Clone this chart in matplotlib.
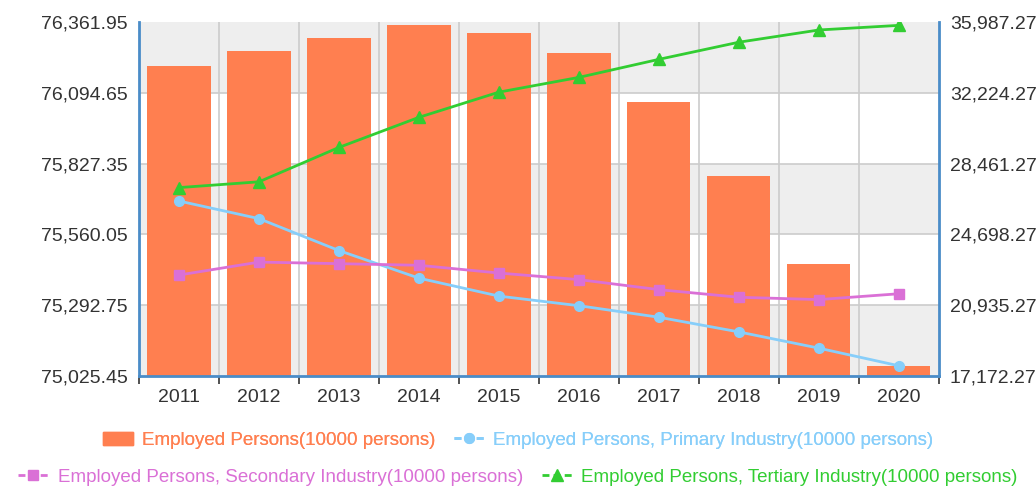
import matplotlib.pyplot as plt
from matplotlib.lines import Line2D
from matplotlib.patches import Patch
import numpy as np

plt.rcParams['font.family'] = ['Liberation Sans', 'DejaVu Sans']

years = ['2011', '2012', '2013', '2014', '2015', '2016', '2017', '2018', '2019', '2020']
employed = [76196, 76254, 76301, 76349, 76320, 76245, 76058, 75782, 75447, 75064]
primary = [26472, 25535, 23838, 22372, 21418, 20908, 20295, 19515, 18652, 17715]
secondary = [22539, 23226, 23142, 23057, 22644, 22295, 21762, 21356, 21234, 21543]
tertiary = [27185, 27493, 29321, 30920, 32258, 33042, 34001, 34911, 35561, 35806]

left_ticks = [75025.45, 75292.75, 75560.05, 75827.35, 76094.65, 76361.95]
right_ticks = [17172.27, 20935.27, 24698.27, 28461.27, 32224.27, 35987.27]

c_bar = '#FF7F50'
c_pri = '#87CEFA'
c_sec = '#DA70D6'
c_ter = '#32CD32'
c_spine = '#4A8CC8'
c_text = '#333333'
fs = 14
lfs = 13.5

fig = plt.figure(figsize=(10.36, 4.88), dpi=100)
ax = fig.add_axes([0.1342, 0.2295, 0.772, 0.7255])
x = np.arange(len(years))

ax.set_xlim(-0.5, len(years) - 0.5)
ax.set_ylim(left_ticks[0], left_ticks[-1])

# alternating background bands
for i in range(len(left_ticks) - 1):
    if i % 2 == 0:
        ax.axhspan(left_ticks[i], left_ticks[i + 1], color='#EEEEEE', zorder=0, lw=0)
for t in left_ticks[1:-1]:
    ax.axhline(t, color='#CCCCCC', lw=1.2, zorder=0.5)
for b in np.arange(0.5, len(years) - 1, 1):
    ax.axvline(b, color='#CCCCCC', lw=1.2, zorder=0.5)

ax.bar(x, employed, width=0.79, color=c_bar, zorder=2)

ax.set_yticks(left_ticks)
ax.set_yticklabels([f'{t:,.2f}' for t in left_ticks])
ax.set_xticks(x)
ax.set_xticklabels(years)
ax.set_xticks(np.arange(-0.5, len(years), 1), minor=True)
ax.tick_params(axis='x', which='major', length=0, pad=9, labelsize=fs, labelcolor=c_text)
ax.tick_params(axis='x', which='minor', length=6, width=1.2, color=c_text)
ax.tick_params(axis='y', length=0, pad=8, labelsize=fs, labelcolor=c_text)

ax2 = ax.twinx()
ax2.set_ylim(right_ticks[0], right_ticks[-1])
ax2.plot(x, primary, color=c_pri, lw=2, marker='o', ms=7, zorder=3)
ax2.plot(x, secondary, color=c_sec, lw=2, marker='s', ms=7, zorder=3)
ax2.plot(x, tertiary, color=c_ter, lw=2, marker='^', ms=8, zorder=3)
ax2.set_yticks(right_ticks)
ax2.set_yticklabels([f'{t:,.2f}' for t in right_ticks])
ax2.tick_params(axis='y', length=0, pad=8, labelsize=fs, labelcolor=c_text)

for a in (ax, ax2):
    a.spines['top'].set_visible(False)
    for s in ('left', 'right', 'bottom'):
        a.spines[s].set_color(c_spine)
        a.spines[s].set_linewidth(2)
ax.spines['right'].set_visible(False)
ax2.spines['left'].set_visible(False)
ax2.spines['bottom'].set_visible(False)

labels = ['Employed Persons(10000 persons)',
          'Employed Persons, Primary Industry(10000 persons)',
          'Employed Persons, Secondary Industry(10000 persons)',
          'Employed Persons, Tertiary Industry(10000 persons)']
h_bar = Patch(facecolor=c_bar, edgecolor=c_bar)
h_pri = Line2D([], [], color=c_pri, lw=2, ls='--', dashes=(2.5, 1.5), marker='o', ms=7)
h_sec = Line2D([], [], color=c_sec, lw=2, ls='--', dashes=(2.5, 1.5), marker='s', ms=7)
h_ter = Line2D([], [], color=c_ter, lw=2, ls='--', dashes=(2.5, 1.5), marker='^', ms=8)

leg1 = fig.legend([h_bar, h_pri], labels[:2], ncol=2, loc='center',
                  bbox_to_anchor=(0.5, 0.098), frameon=False, fontsize=lfs,
                  labelcolor=[c_bar, c_pri], handlelength=1.6, columnspacing=1.0,
                  handletextpad=0.5, borderpad=0)
leg2 = fig.legend([h_sec, h_ter], labels[2:], ncol=2, loc='center',
                  bbox_to_anchor=(0.5, 0.022), frameon=False, fontsize=lfs,
                  labelcolor=[c_sec, c_ter], handlelength=1.6, columnspacing=1.0,
                  handletextpad=0.5, borderpad=0)
fig.add_artist(leg1)

fig.savefig('out.png', dpi=100)
